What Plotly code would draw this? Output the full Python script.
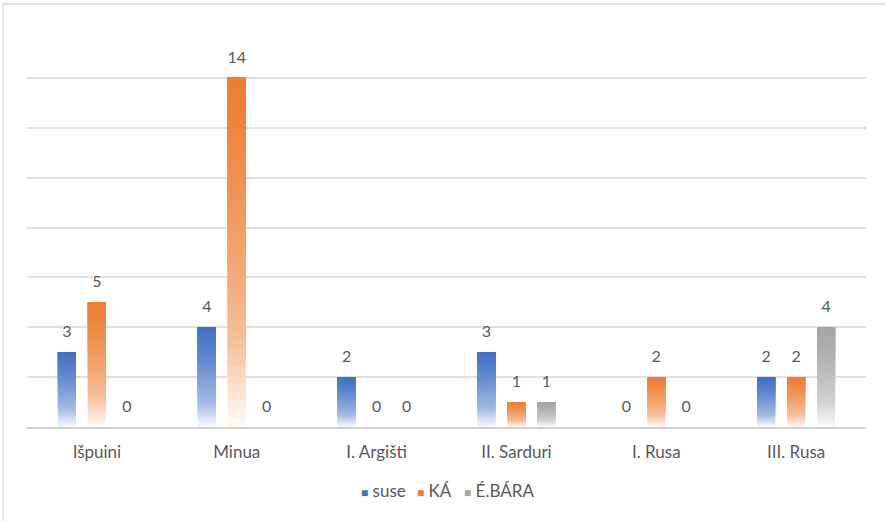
import plotly.graph_objects as go

# Data
categories = ["Išpuini", "Minua", "I. Argišti", "II. Sarduri", "I. Rusa", "III. Rusa"]
series_names = ["suse", "KÁ", "É.BÁRA"]
suse = [3, 4, 2, 3, 0, 2]
ka = [5, 14, 0, 1, 2, 2]
ebara = [0, 0, 0, 1, 0, 4]
series_values = [suse, ka, ebara]
series_colors = [(68, 114, 196), (237, 125, 49), (165, 165, 165)]

W, H = 885, 521
M = dict(l=27, r=19, t=27, b=94)
TEXT = "#595959"
FONT = "Lato"
N_SLICES = 40
GAP = 0.357


def mix_white(rgb, w):
    r, g, b = (round(c + (255 - c) * w) for c in rgb)
    return f"rgb({r},{g},{b})"


def fade(t):
    # t = 0 at the top of a bar, 1 at its base
    if t < 0.75:
        return 0.5 * (t / 0.75) ** 1.3
    return 0.5 + 0.47 * ((t - 0.75) / 0.25)


fig = go.Figure()

for name, vals, rgb in zip(series_names, series_values, series_colors):
    # gradient bars: stacked slices, each running from its base up to the bar top,
    # later (higher) slices drawn over earlier ones
    for i in range(N_SLICES):
        frac = i / N_SLICES
        t = 1 - (i + 0.5) / N_SLICES
        fig.add_trace(go.Bar(
            x=categories,
            y=[v * (1 - frac) for v in vals],
            base=[v * frac for v in vals],
            offsetgroup=name,
            marker=dict(color=mix_white(rgb, fade(t)), line=dict(width=0)),
            showlegend=False,
            hoverinfo="skip",
        ))

# value labels, grouped the same way as the bars
for name, vals in zip(series_names, series_values):
    fig.add_trace(go.Scatter(
        x=categories,
        y=vals,
        offsetgroup=name,
        mode="markers+text",
        marker=dict(size=16, color="rgba(0,0,0,0)"),
        text=[str(v) for v in vals],
        textposition="top center",
        textfont=dict(family=FONT, size=16, color=TEXT),
        cliponaxis=False,
        showlegend=False,
        hoverinfo="skip",
    ))

pw = W - M["l"] - M["r"]
ph = H - M["t"] - M["b"]
base_px = H - M["b"]

# chart frame (top and left edges visible)
fig.add_shape(type="rect", xref="paper", yref="paper",
              x0=(3 - M["l"]) / pw, x1=(W + 20 - M["l"]) / pw,
              y0=-(M["b"] + 20) / ph, y1=(base_px - 4) / ph,
              line=dict(color="#d9d9d9", width=1.3), layer="below")

# legend row
legend_y = -(491 - base_px) / ph
legend_x_px = [359, 415, 462]
for name, rgb, xp in zip(series_names, series_colors, legend_x_px):
    fig.add_annotation(
        xref="paper", yref="paper", x=(xp - M["l"]) / pw, y=legend_y,
        xanchor="left", yanchor="middle", showarrow=False,
        text=f'<span style="color:rgb{rgb};font-size:12px">■</span> {name}',
        font=dict(family=FONT, size=17, color=TEXT),
    )

fig.update_layout(
    width=W, height=H,
    margin=M,
    paper_bgcolor="white", plot_bgcolor="white",
    barmode="group", bargap=GAP, bargroupgap=0.4,
    scattermode="group", scattergap=GAP,
    font=dict(family=FONT, size=17, color=TEXT),
    xaxis=dict(
        type="category", showgrid=False, showline=True,
        linecolor="#d0d0d0", linewidth=1.5, ticks="", ticklabelstandoff=9,
        tickfont=dict(family=FONT, size=17, color=TEXT),
    ),
    yaxis=dict(
        range=[0, 16.04], dtick=2, showgrid=True, gridcolor="#e0e0e0", gridwidth=1.5,
        showticklabels=False, zeroline=False, ticks="",
    ),
    showlegend=False,
)

fig.write_html("out.html")
